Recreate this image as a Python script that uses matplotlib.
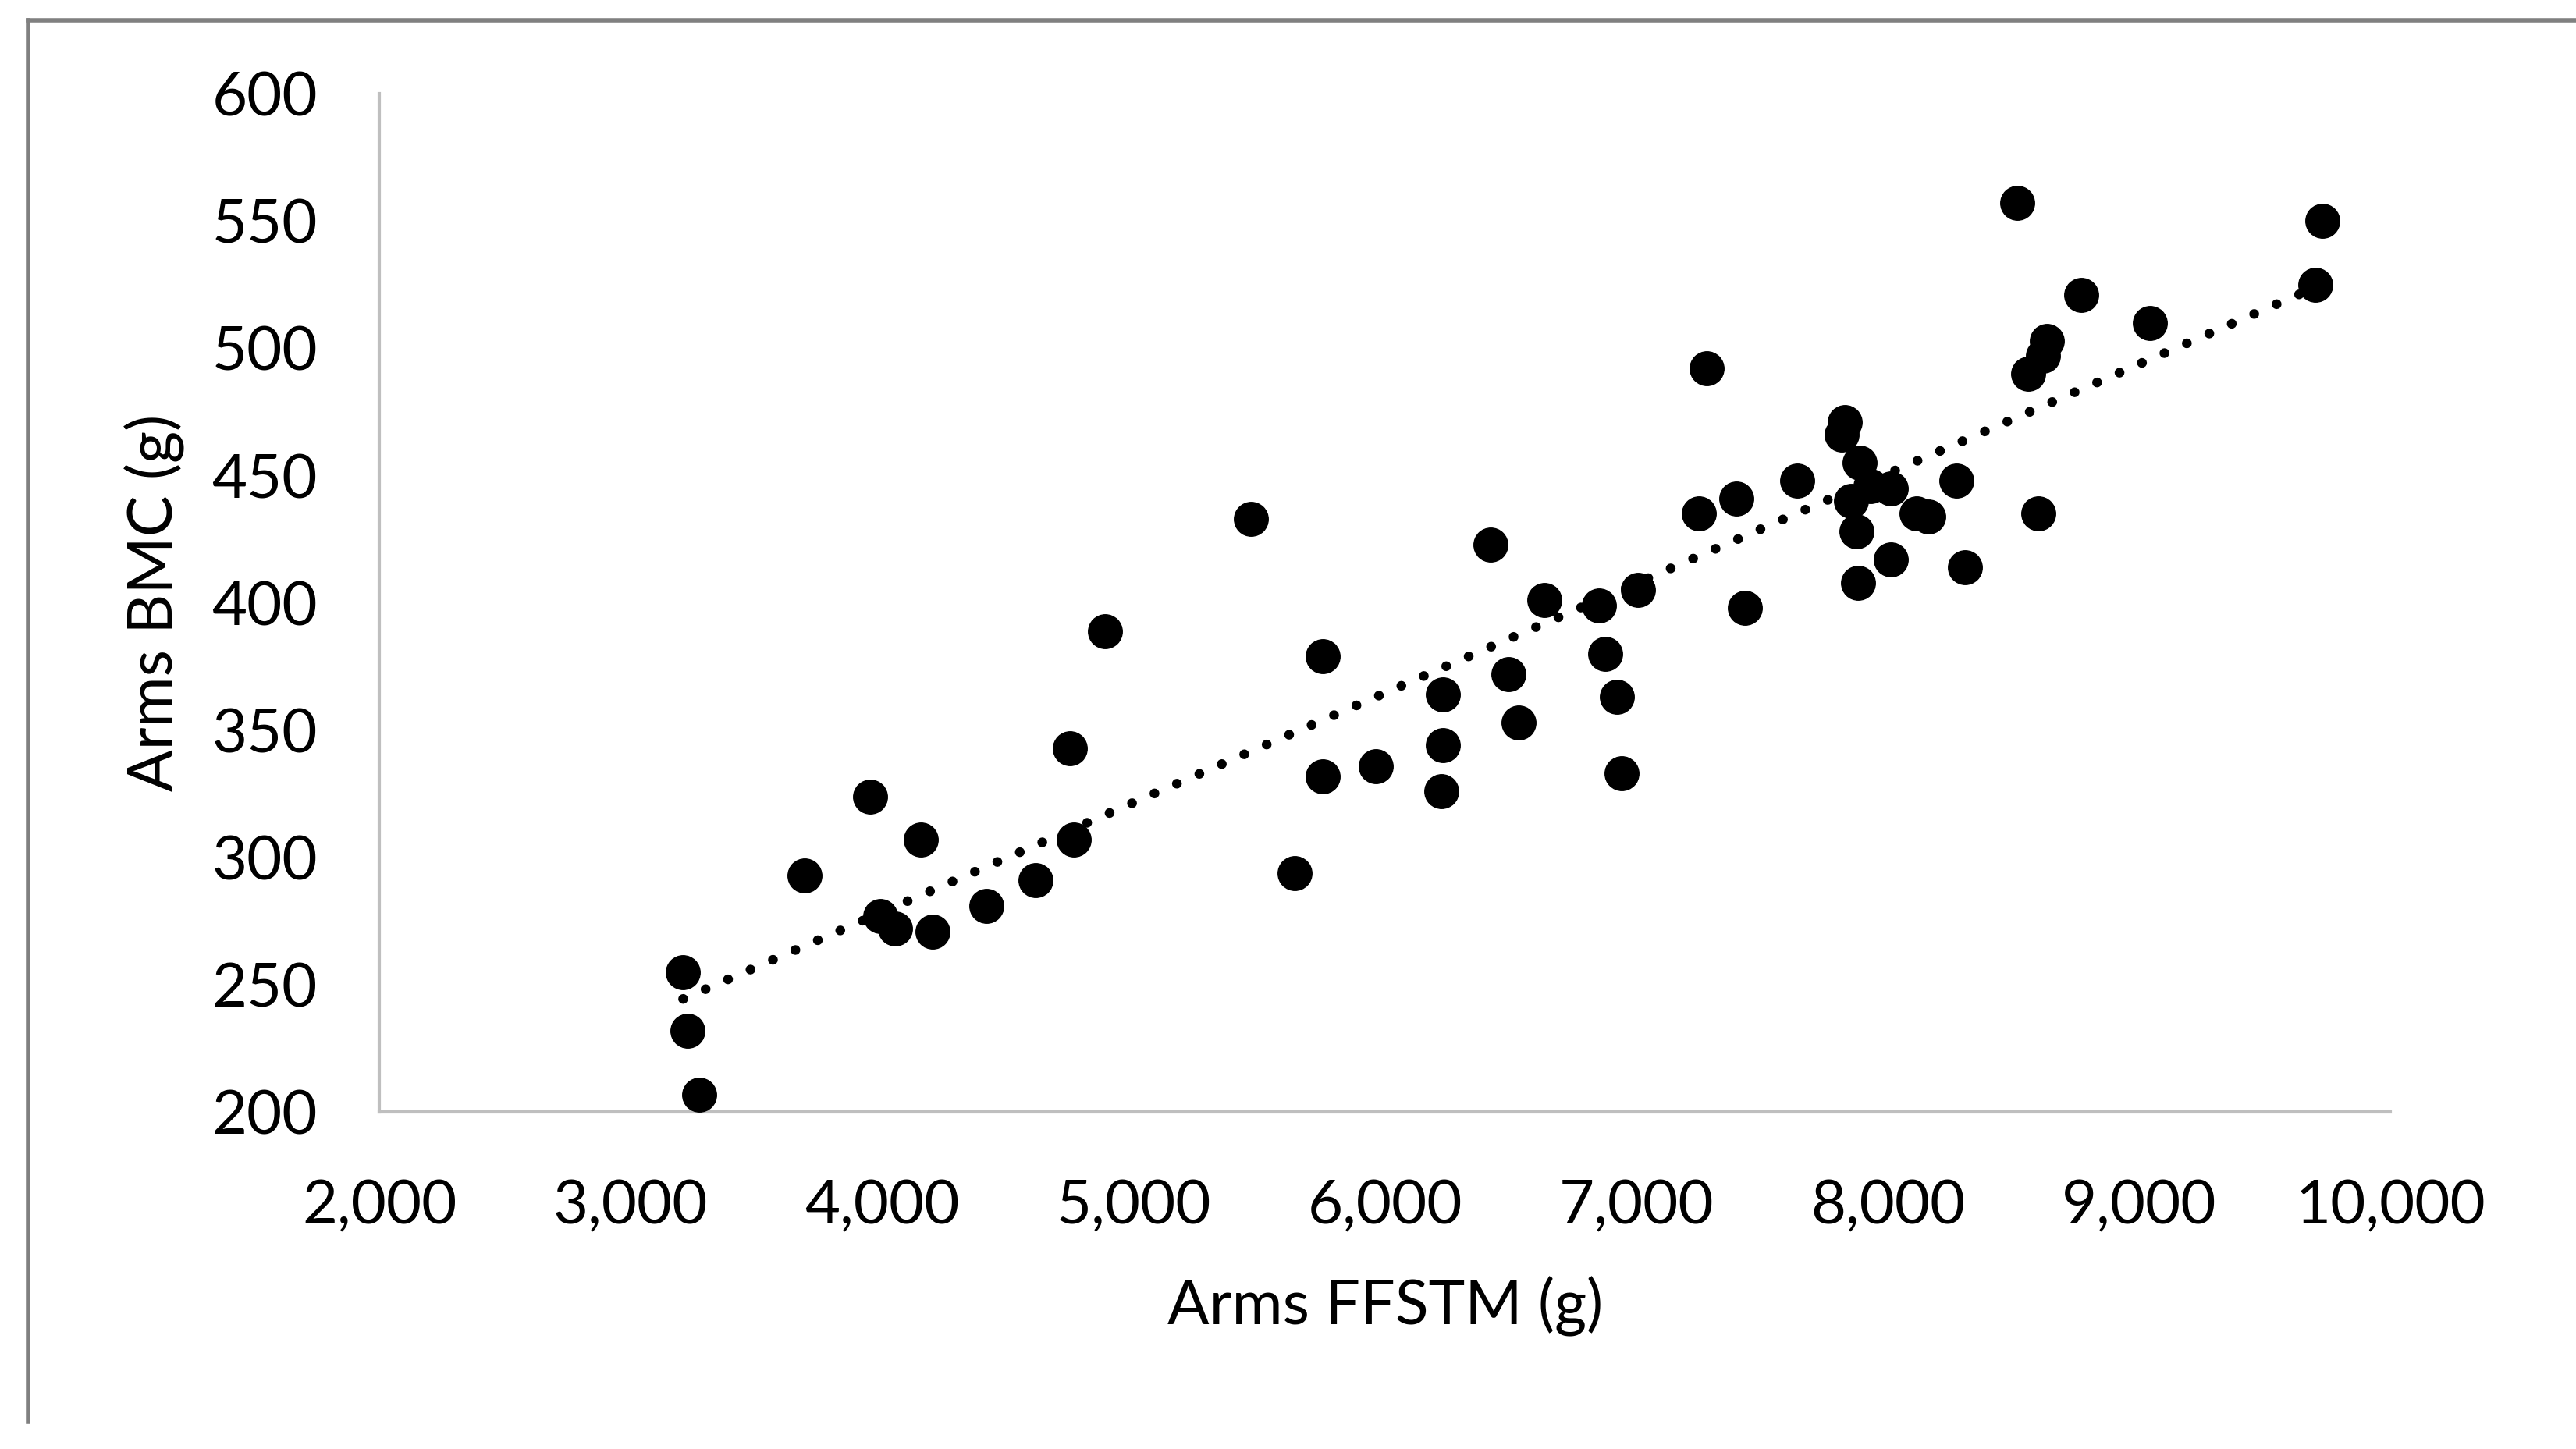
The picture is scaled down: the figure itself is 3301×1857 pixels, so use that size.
import numpy as np
import matplotlib.pyplot as plt
from matplotlib.ticker import FuncFormatter

plt.rcParams['font.family'] = ['Lato', 'DejaVu Sans']

# Arms fat-free soft tissue mass (g) vs arms bone mineral content (g)
ffstm = np.array([3208, 3227, 3273, 3690, 3952, 3991, 4050, 4154, 4200, 4415,
                  4611, 4748, 4761, 4885, 5466, 5642, 5753, 5753, 5962, 6230,
                  6230, 6223, 6419, 6491, 6530, 6634, 6850, 6876, 6922, 6941,
                  7007, 7248, 7281, 7398, 7431, 7640, 7816, 7829, 7855, 7888,
                  7875, 7881, 7933, 8012, 8012, 8116, 8162, 8273, 8306, 8514,
                  8560, 8619, 8632, 8599, 8769, 9043, 9702, 9728])
bmc = np.array([255, 232, 207, 293, 324, 277, 272, 307, 271, 281,
                291, 343, 307, 389, 433, 294, 379, 332, 336, 364,
                344, 326, 423, 372, 353, 401, 399, 380, 363, 333,
                405, 435, 492, 441, 398, 448, 466, 471, 440, 455,
                428, 408, 446, 445, 417, 435, 434, 448, 414, 557,
                490, 497, 503, 435, 521, 510, 525, 550])

x_ticks = np.arange(2000, 10001, 1000)
y_ticks = np.arange(200, 601, 50)

fig = plt.figure(figsize=(33.01, 18.57), dpi=100)
ax = fig.add_axes([0.1473, 0.2324, 0.7807, 0.7030])

ax.scatter(ffstm, bmc, s=980, color='black', zorder=3)

# linear trendline
slope, intercept = np.polyfit(ffstm, bmc, 1)
x_fit = np.array([ffstm.min(), ffstm.max()])
ax.plot(x_fit, slope * x_fit + intercept, color='black', linewidth=9,
        linestyle=(0, (0.01, 2.5)), dash_capstyle='round', zorder=2)

ax.set_xlim(2000, 10000)
ax.set_ylim(200, 600)
ax.set_xticks(x_ticks)
ax.set_yticks(y_ticks)
ax.xaxis.set_major_formatter(FuncFormatter(lambda v, p: f'{int(v):,}'))
ax.tick_params(length=0, labelsize=56)
ax.tick_params(axis='y', pad=57)
ax.tick_params(axis='x', pad=62)

for side in ['top', 'right']:
    ax.spines[side].set_visible(False)
for side in ['left', 'bottom']:
    ax.spines[side].set_color('#bfbfbf')
    ax.spines[side].set_linewidth(3)

ax.set_xlabel('Arms FFSTM (g)', fontsize=57, labelpad=38)
ax.set_ylabel('Arms BMC (g)', fontsize=57, labelpad=25)

# chart frame (top and left edges visible in the source)
fig.add_artist(plt.Line2D([0.0108, 1.0], [0.986, 0.986], color='#808080', linewidth=4))
fig.add_artist(plt.Line2D([0.0108, 0.0108], [0.019, 0.986], color='#808080', linewidth=4))

fig.savefig('out.png', dpi=100, facecolor='white')
